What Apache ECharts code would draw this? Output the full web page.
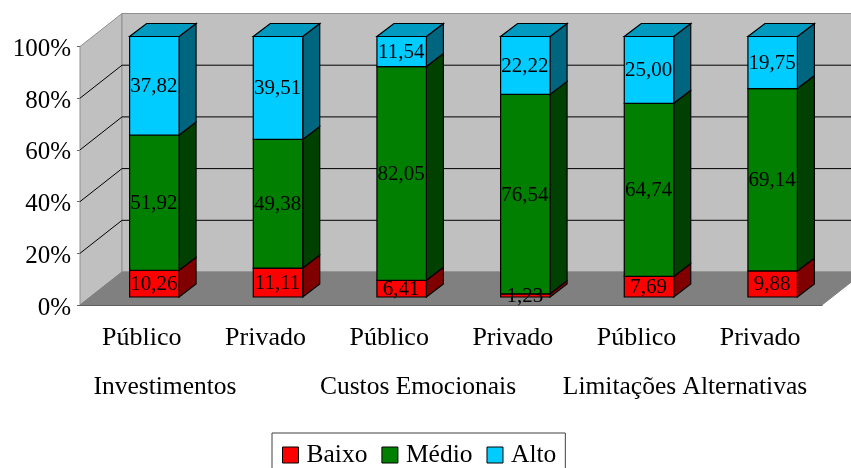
<!DOCTYPE html>
<html>
<head>
<meta charset="utf-8">
<title>Chart</title>
<script src="https://cdn.jsdelivr.net/npm/echarts@6/dist/echarts.min.js"></script>
<style>
    html, body { margin: 0; padding: 0; background: #fff; overflow: hidden; }
    #chart { width: 851px; height: 468px; }
</style>
</head>
<body>
<div id="chart"></div>
<script>
const categories = ['Público', 'Privado', 'Público', 'Privado', 'Público', 'Privado']
const groupLabels = ['Investimentos', 'Custos Emocionais', 'Limitações Alternativas']
const seriesNames = ['Baixo', 'Médio', 'Alto']
const baixo = [10.26, 11.11, 6.41, 1.23, 7.69, 9.88]
const medio = [51.92, 49.38, 82.05, 76.54, 64.74, 69.14]
const alto = [37.82, 39.51, 11.54, 22.22, 25.00, 19.75]
const wallTicks = [20, 40, 60, 80]

const fontName = '"Liberation Serif", "Times New Roman", serif'
const frontColors = ['#ff0000', '#007f00', '#00ccff']
const sideColors = ['#800000', '#004000', '#006680']
const topColor = '#0099bf'

// depth of the 3d box, in pixels
const wallDx = 42
const wallDy = 33
const barShiftX = 12.5
const barShiftY = 8
const barDx = 17
const barDy = 13

function poly(points, fill, stroke, lineWidth) {
    return {
        type: 'polygon',
        shape: { points: points },
        style: { fill: fill, stroke: stroke, lineWidth: lineWidth }
    }
}

function line(x1, y1, x2, y2, color) {
    return {
        type: 'line',
        shape: { x1: x1, y1: y1, x2: x2, y2: y2 },
        style: { stroke: color, lineWidth: 1 }
    }
}

function renderBackdrop(params, api) {
    var box = params.coordSys
    var left = box.x
    var right = box.x + box.width
    var top = box.y
    var bottom = box.y + box.height
    var children = [
        poly([[left, top], [left + wallDx, top - wallDy], [left + wallDx, bottom - wallDy], [left, bottom]], '#c0c0c0', '#909090', 1),
        poly([[left + wallDx, top - wallDy], [right + wallDx, top - wallDy], [right + wallDx, bottom - wallDy], [left + wallDx, bottom - wallDy]], '#c0c0c0', '#909090', 1),
        poly([[left, bottom], [left + wallDx, bottom - wallDy], [right + wallDx, bottom - wallDy], [right, bottom]], '#808080', '#808080', 1)
    ]
    wallTicks.forEach(function (tick) {
        var y = api.coord([0, tick])[1]
        children.push(line(left, y, left + wallDx, y - wallDy, '#000'))
        children.push(line(left + wallDx, y - wallDy, right + wallDx, y - wallDy, '#000'))
    })
    return { type: 'group', children: children }
}

function barY(api, value) {
    // the bars stand a little taller than the axis in the original
    return api.coord([0, value])[1] - barShiftY - value * 0.02
}

function makeRenderBar(level) {
    return function (params, api) {
        var index = api.value(0)
        var start = api.value(1)
        var end = api.value(2)
        var width = api.size([1, 0])[0] * 0.4
        var x1 = api.coord([index, 0])[0] - width / 2 + barShiftX
        var x2 = x1 + width
        var y1 = barY(api, start)
        var y2 = barY(api, end)
        var children = [
            poly([[x2, y1], [x2 + barDx, y1 - barDy], [x2 + barDx, y2 - barDy], [x2, y2]], sideColors[level], '#000', 1.2),
            poly([[x1, y1], [x2, y1], [x2, y2], [x1, y2]], frontColors[level], '#000', 1.2)
        ]
        if (level === 2) {
            children.push(poly([[x1, y2], [x2, y2], [x2 + barDx, y2 - barDy], [x1 + barDx, y2 - barDy]], topColor, '#000', 1.2))
        }
        // labels keep the raw value, the height is the 100% share
        children.push({
            type: 'text',
            z2: 100,
            style: {
                x: (x1 + x2) / 2 - 0.5,
                y: (y1 + y2) / 2 + 1,
                text: api.value(3).toFixed(2).replace('.', ','),
                align: 'center',
                verticalAlign: 'middle',
                fontFamily: fontName,
                fontSize: 21,
                fill: '#000'
            }
        })
        return { type: 'group', children: children }
    }
}

function stackData(level) {
    var levels = [baixo, medio, alto]
    return categories.map(function (name, i) {
        var total = baixo[i] + medio[i] + alto[i]
        var start = 0
        for (var k = 0; k < level; k++) {
            start += levels[k][i]
        }
        var end = start + levels[level][i]
        return [i, start / total * 100, end / total * 100, levels[level][i]]
    })
}

var barSeries = seriesNames.map(function (name, level) {
    return {
        name: name,
        type: 'custom',
        z: 3,
        clip: false,
        renderItem: makeRenderBar(level),
        itemStyle: { color: frontColors[level] },
        encode: { x: 0, y: 2 },
        data: stackData(level)
    }
})

var groupX = [165, 418, 685]

var myChart = echarts.init(document.getElementById('chart'), null, { renderer: 'canvas' })

var option = {
    animation: false,
    backgroundColor: '#fff',
    textStyle: { fontFamily: fontName },
    grid: { left: 80, right: 29, top: 46.5, bottom: 163 },
    xAxis: {
        type: 'category',
        data: categories,
        axisLine: { lineStyle: { color: '#404040', width: 1 } },
        axisTick: { alignWithLabel: false, length: 6, lineStyle: { color: '#404040' } },
        axisLabel: { interval: 0, color: '#000', fontSize: 26, fontFamily: fontName, margin: 20 },
        splitLine: { show: false }
    },
    yAxis: {
        type: 'value',
        min: 0,
        max: 100,
        interval: 20,
        axisLine: { show: true, lineStyle: { color: '#606060', width: 1 } },
        axisTick: { show: true, length: 3, lineStyle: { color: '#606060' } },
        axisLabel: { color: '#000', fontSize: 25, fontFamily: fontName, margin: 9, verticalAlign: 'top', lineHeight: 6, formatter: '{value}%' },
        splitLine: { show: false }
    },
    legend: {
        data: seriesNames,
        left: 272,
        top: 433,
        orient: 'horizontal',
        icon: 'rect',
        itemWidth: 16,
        itemHeight: 16,
        itemGap: 14,
        padding: [9, 9, 21, 10],
        borderColor: '#404040',
        borderWidth: 1,
        backgroundColor: '#fff',
        itemStyle: { borderColor: '#000', borderWidth: 1 },
        textStyle: { color: '#000', fontSize: 25.5, fontFamily: fontName, padding: [3, 0, 0, 3] }
    },
    graphic: groupLabels.map(function (label, i) {
        return {
            type: 'text',
            x: groupX[i],
            y: 387,
            style: {
                text: label,
                align: 'center',
                verticalAlign: 'middle',
                fontFamily: fontName,
                fontSize: 25.5,
                fill: '#000'
            }
        }
    }),
    series: [{
        type: 'custom',
        z: 1,
        clip: false,
        silent: true,
        renderItem: renderBackdrop,
        data: [[0, 0]]
    }].concat(barSeries)
}

option && myChart.setOption(option)
</script>
</body>
</html>
